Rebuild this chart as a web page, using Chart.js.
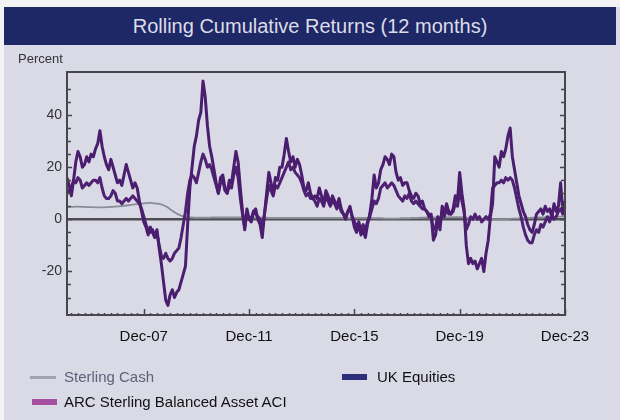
<!DOCTYPE html>
<html>
<head>
<meta charset="utf-8">
<script src="https://cdn.jsdelivr.net/npm/chart.js@4"></script>
<style>
body{margin:0;background:#f3f3f6;}
#panel{position:absolute;left:4px;top:7px;width:616px;height:413px;background:#d9dae6;}
#titulo{position:absolute;left:4px;top:7px;width:612px;height:38px;background:#1f2867;color:#dcdde8;
font:20px "Liberation Sans",Arial,sans-serif;text-align:center;line-height:38px;}
#percent{position:absolute;left:18px;top:51px;font:13px "Liberation Sans",Arial,sans-serif;color:#333;}
canvas{position:absolute;left:0;top:0;}
.leg{position:absolute;font:15px "Liberation Sans",Arial,sans-serif;color:#111;line-height:18px;}
.sw{position:absolute;}
</style>
</head>
<body>
<div id="panel"></div>
<div id="titulo">Rolling Cumulative Returns (12 months)</div>
<canvas id="grafico" width="620" height="420"></canvas>
<div id="percent">Percent</div>

<div class="sw" style="left:30px;top:376px;width:26px;height:3px;background:#a2a3ae"></div>
<div class="leg" style="left:64px;top:368px;color:#5e6279">Sterling Cash</div>
<div class="sw" style="left:342px;top:374px;width:25px;height:6px;background:#2d2f78"></div>
<div class="leg" style="left:377px;top:368px">UK Equities</div>
<div class="sw" style="left:32px;top:399px;width:25px;height:6px;background:#a5509f"></div>
<div class="leg" style="left:64px;top:393px">ARC Sterling Balanced Asset ACI</div>

<script>
// monthly, Jan-05 .. Dec-23
const monthNames = ["Jan","Feb","Mar","Apr","May","Jun","Jul","Aug","Sep","Oct","Nov","Dec"];
const firstYear = 2005, lastYear = 2023;
const tickLabels = ["Dec-07","Dec-11","Dec-15","Dec-19","Dec-23"];
const yLabels = [-20,0,20,40];

const ukEquities = [
16,13,9,15,22,26,24,20,21,24,22,25,
24,27,29,34,28,24,21,19,23,20,17,14,
15,13,17,21,18,15,12,14,12,7,3,-1,
-3,-6,-3,-5,-7,-4,-11,-17,-24,-31,-33,-29,
-27,-30,-28,-27,-24,-21,-18,-2,12,20,28,32,
38,41,53,47,36,28,24,19,14,10,16,17,
12,10,15,14,20,26,22,12,3,-4,4,0,
-1,3,4,0,-2,-7,2,10,18,14,10,16,
15,20,20,25,31,26,22,24,20,23,21,17,
12,11,14,10,8,9,8,12,9,6,11,9,
6,9,7,5,8,4,2,0,3,5,1,-3,
-5,-2,-6,-4,-7,-2,2,8,17,12,14,19,
21,24,23,21,25,24,18,15,16,13,14,14,
11,9,8,10,9,6,7,4,3,1,2,-8,
-6,0,-4,5,2,6,3,2,4,9,7,18,
10,4,-10,-17,-15,-17,-16,-19,-17,-15,-20,-13,
-8,1,6,24,22,20,26,24,27,32,35,24,
19,14,9,6,3,1,-2,-4,-5,-2,2,3,
4,2,5,3,4,1,6,3,5,14,3,7
];

const arcBalanced = [
10,11,12,15,14,16,15,12,13,14,13,14,
15,15,14,16,12,9,8,8,9,11,10,7,
7,6,7,8,7,8,9,8,7,6,4,1,
-2,-4,-5,-4,-6,-5,-10,-14,-15,-13,-15,-16,
-15,-13,-12,-11,-7,-2,3,10,15,17,16,14,
18,22,25,23,20,21,19,16,13,10,14,15,
11,10,13,12,17,20,16,8,2,-3,2,1,
0,3,2,1,0,-4,2,8,13,11,9,13,
12,14,16,18,20,22,19,20,18,17,16,14,
11,9,10,8,8,7,5,8,7,5,9,7,
5,7,6,4,6,3,2,1,3,4,1,-1,
-3,-1,-4,-2,-4,-1,1,4,7,6,8,12,
13,14,12,13,14,13,11,9,8,7,9,8,
10,7,6,7,6,5,4,4,3,2,1,-4,
-3,1,-2,3,1,4,2,2,3,6,5,11,
7,3,-4,-2,1,0,2,0,1,-1,0,1,
0,2,12,13,14,14,15,14,16,15,16,15,
12,8,4,1,-3,-6,-8,-9,-9,-6,-4,-5,
-2,-3,-1,1,-1,2,0,1,3,4,2,5
];

const sterlingCash = [
4.8,4.8,4.8,4.8,4.9,4.9,4.8,4.8,4.8,4.7,4.7,4.7,
4.7,4.6,4.6,4.6,4.6,4.6,4.7,4.7,4.8,4.8,4.9,5.0,
5.0,5.1,5.2,5.3,5.4,5.5,5.6,5.7,5.8,5.9,6.0,6.1,
6.2,6.3,6.3,6.2,6.1,6.0,5.9,5.7,5.4,5.0,4.5,3.9,
3.3,2.7,2.2,1.8,1.4,1.1,0.9,0.8,0.7,0.7,0.6,0.6,
0.6,0.6,0.6,0.6,0.6,0.6,0.7,0.7,0.7,0.7,0.7,0.7,
0.7,0.7,0.7,0.7,0.7,0.7,0.7,0.7,0.7,0.7,0.7,0.7,
0.7,0.7,0.6,0.6,0.6,0.6,0.6,0.6,0.5,0.5,0.5,0.5,
0.5,0.5,0.5,0.5,0.5,0.5,0.5,0.5,0.5,0.5,0.5,0.5,
0.5,0.5,0.5,0.5,0.5,0.5,0.5,0.5,0.5,0.5,0.5,0.5,
0.5,0.5,0.5,0.5,0.5,0.5,0.5,0.5,0.5,0.5,0.5,0.5,
0.5,0.5,0.5,0.5,0.5,0.5,0.5,0.5,0.4,0.4,0.4,0.4,
0.4,0.3,0.3,0.3,0.3,0.3,0.3,0.3,0.4,0.4,0.4,0.4,
0.4,0.5,0.5,0.5,0.5,0.6,0.6,0.6,0.7,0.7,0.7,0.7,
0.7,0.7,0.8,0.8,0.8,0.8,0.8,0.8,0.8,0.8,0.8,0.8,
0.8,0.7,0.6,0.5,0.4,0.3,0.3,0.2,0.2,0.1,0.1,0.1,
0.1,0.1,0.1,0.1,0.1,0.1,0.1,0.1,0.1,0.2,0.2,0.3,
0.3,0.3,0.4,0.4,0.4,0.5,0.5,0.5,0.6,0.6,0.6,0.7,
0.7,0.7,0.8,0.8,0.8,0.9,0.9,0.9,1.0,1.0,1.0,1.0
];

const labels = [];
for (let y = firstYear; y <= lastYear; y++) {
  monthNames.forEach(m => labels.push(m + "-" + String(y).slice(2)));
}

const FONT = '"Liberation Sans", Arial, sans-serif';

const axisDecor = {
  id: "axisDecor",
  beforeDatasetsDraw(chart) {
    const ctx = chart.ctx, a = chart.chartArea, y0 = chart.scales.y.getPixelForValue(0);
    ctx.save();
    ctx.strokeStyle = "#4d4d52";
    ctx.lineWidth = 2.5;
    ctx.beginPath();
    ctx.moveTo(a.left, y0);
    ctx.lineTo(a.right, y0);
    ctx.stroke();
    ctx.restore();
  },
  afterDatasetsDraw(chart) {
    const ctx = chart.ctx, a = chart.chartArea;
    const ys = chart.scales.y, xs = chart.scales.x;
    ctx.save();
    ctx.strokeStyle = "#46464b";
    ctx.lineWidth = 2;
    ctx.strokeRect(a.left, a.top, a.right - a.left, a.bottom - a.top);
    ctx.lineWidth = 1.5;
    ctx.beginPath();
    ys.ticks.forEach(t => {
      if (t.value % 5 !== 0) return;
      const p = Math.round(ys.getPixelForValue(t.value)) + 0.5;
      const len = yLabels.includes(t.value) ? 5 : 4;
      ctx.moveTo(a.left, p); ctx.lineTo(a.left + len, p);
      ctx.moveTo(a.right, p); ctx.lineTo(a.right - len, p);
    });
    labels.forEach((l, i) => {
      const p = Math.round(xs.getPixelForValue(i)) + 0.5;
      if (tickLabels.includes(l)) {
        ctx.moveTo(p, a.bottom); ctx.lineTo(p, a.bottom - 6);
      } else if (i % 3 === 2) {
        ctx.moveTo(p, a.bottom); ctx.lineTo(p, a.bottom - 2);
      }
    });
    ctx.stroke();
    ctx.restore();
  }
};

new Chart(document.getElementById("grafico"), {
  type: "line",
  data: {
    labels: labels,
    datasets: [
      { label: "UK Equities", data: ukEquities, borderColor: "#4a1d6e", borderWidth: 3 },
      { label: "ARC Sterling Balanced Asset ACI", data: arcBalanced, borderColor: "#4f2172", borderWidth: 3 },
      { label: "Sterling Cash", data: sterlingCash, borderColor: "#8c8c96", borderWidth: 1.8 }
    ]
  },
  options: {
    responsive: false,
    animation: false,
    devicePixelRatio: 1,
    layout: { padding: { left: 0, right: 55, top: 72, bottom: 0 } },
    elements: { point: { radius: 0 }, line: { tension: 0, borderJoinStyle: "round" } },
    plugins: { legend: { display: false }, tooltip: { enabled: false } },
    scales: {
      x: {
        type: "category",
        offset: false,
        grid: { display: false, drawTicks: false },
        border: { display: false },
        ticks: {
          autoSkip: false, maxRotation: 0, minRotation: 0, padding: 13,
          color: "#111", font: { family: FONT, size: 15 },
          callback: (v, i) => tickLabels.includes(labels[i]) ? labels[i] : ""
        },
        afterFit: s => { s.height = 105; }
      },
      y: {
        min: -36.7, max: 56.5,
        grid: { display: false, drawTicks: false },
        border: { display: false },
        ticks: {
          stepSize: 5, padding: 5, autoSkip: false, color: "#333", font: { family: FONT, size: 14 },
          callback: v => yLabels.includes(v) ? String(v) : ""
        },
        afterFit: s => { s.width = 67; }
      }
    }
  },
  plugins: [axisDecor]
});
</script>
</body>
</html>
